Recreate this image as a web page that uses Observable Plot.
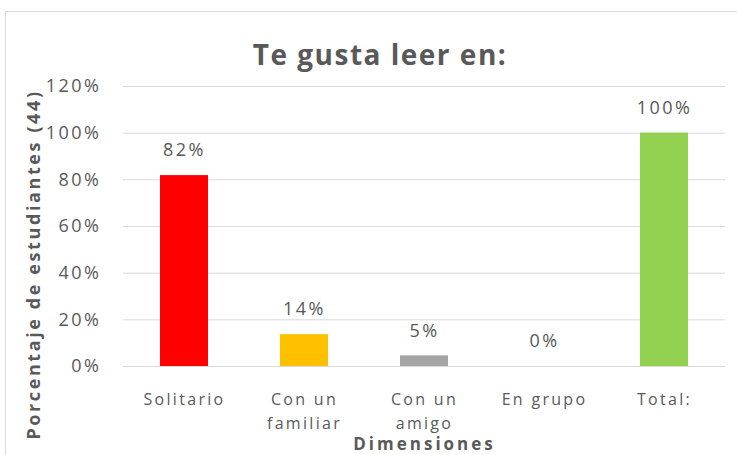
<!DOCTYPE html>
<html>
<head>
<meta charset="utf-8">
<script src="https://cdn.jsdelivr.net/npm/d3@7"></script>
<script src="https://cdn.jsdelivr.net/npm/@observablehq/plot@0.6"></script>
<style>
  html, body { margin: 0; padding: 0; background: #fff; overflow: hidden; }
  #wrap { position: relative; width: 737px; height: 455px; overflow: hidden; font-family: "Open Sans", Lato, sans-serif; }
  #frame { position: absolute; left: 5px; top: 11px; width: 745px; height: 460px; border: 1px solid #d9d9d9; box-sizing: border-box; }
  #title { position: absolute; left: 0; width: 760px; top: 35px; text-align: center; font-size: 28px; font-weight: bold; color: #595959; letter-spacing: 1.5px; }
  #chart { position: absolute; left: 0; top: 80px; }
  #chart .lsx text, #chart text.lsx { letter-spacing: 2.3px; }
  #chart .ls4 text, #chart text.ls4 { letter-spacing: 2.5px; }
  #chart .ls3 text, #chart text.ls3 { letter-spacing: 3px; }
  #chart .lsy text, #chart text.lsy { letter-spacing: 2.6px; }
</style>
</head>
<body>
<div id="wrap">
  <div id="frame"></div>
  <div id="title">Te gusta leer en:</div>
  <div id="chart"></div>
</div>
<script>
const categories = ["Solitario", "Con un\nfamiliar", "Con un\namigo", "En grupo", "Total:"];
const counts = [36, 6, 2, 0, 44];
const totalStudents = 44;
const colors = ["#FF0000", "#FFC000", "#A5A5A5", "#A5A5A5", "#92D050"];
const yTicks = [0, 0.2, 0.4, 0.6, 0.8, 1.0, 1.2];

const data = categories.map((c, i) => ({
  cat: c,
  value: counts[i] / totalStudents,
  color: colors[i],
  label: Math.round(counts[i] / totalStudents * 100) + "%"
}));

const textColor = "#595959";

const plot = Plot.plot({
  width: 737,
  height: 375,
  marginLeft: 123,
  marginRight: 12,
  marginTop: 6,
  marginBottom: 89,
  style: { fontFamily: "'Open Sans', Lato, sans-serif", fontSize: "16px", color: textColor, background: "transparent", overflow: "visible" },
  x: { domain: categories, paddingInner: 0.6, paddingOuter: 0.3, label: null },
  y: { domain: [0, 1.2], label: null },
  marks: [
    Plot.gridY(yTicks, { stroke: "#d9d9d9", strokeOpacity: 1, strokeWidth: 1 }),
    Plot.barY(data, { x: "cat", y: "value", fill: "color" }),
    Plot.text(data, { x: "cat", y: "value", text: "label", dy: -25, fill: textColor, fontSize: 18, className: "ls4" }),
    Plot.axisY(yTicks, { tickFormat: d => Math.round(d * 100) + "%", tickSize: 0, tickPadding: 22, fontSize: 18, fill: textColor, label: null, className: "ls4" }),
    Plot.axisX({ tickSize: 0, tickPadding: 21, fontSize: 16, fill: textColor, lineHeight: 1.5, label: null, className: "lsx" }),
    Plot.text(["Dimensiones"], { frameAnchor: "bottom", dy: 83, fontWeight: "bold", fontSize: 17, fill: textColor, className: "ls3" }),
    Plot.text(["Porcentaje de estudiantes (44)"], { frameAnchor: "left", textAnchor: "middle", dx: -89, dy: 38, rotate: -90, fontWeight: "bold", fontSize: 18, fill: textColor, className: "lsy" })
  ]
});
document.getElementById("chart").appendChild(plot);
</script>
</body>
</html>
